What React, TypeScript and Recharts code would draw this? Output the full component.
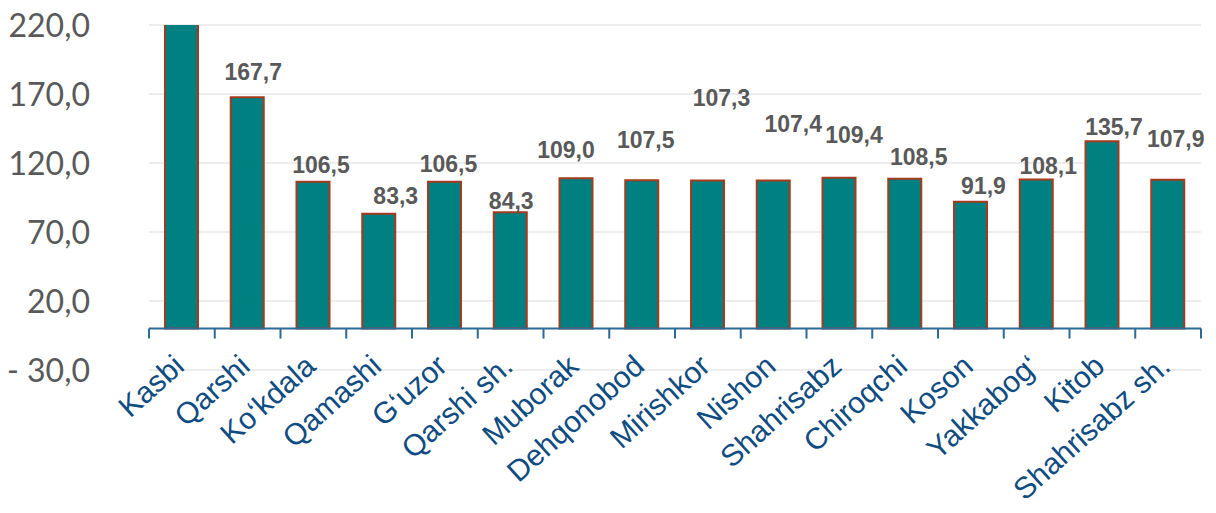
import React from "react";
import { BarChart, Bar, XAxis, YAxis, CartesianGrid, ReferenceLine, LabelList } from "recharts";

// ---- data ----
const categories: string[] = [
  "Kasbi", "Qarshi", "Ko\u2018kdala", "Qamashi", "G\u2018uzor", "Qarshi sh.", "Muborak", "Dehqonobod",
  "Mirishkor", "Nishon", "Shahrisabz", "Chiroqchi", "Koson", "Yakkabog\u2018", "Kitob", "Shahrisabz sh.",
];
// Kasbi runs off the top of the axis in the reference (its label is not visible)
const values: number[] = [250.0, 167.7, 106.5, 83.3, 106.5, 84.3, 109.0, 107.5, 107.3, 107.4, 109.4, 108.5, 91.9, 108.1, 135.7, 107.9];
const yTicks: number[] = [-30, 20, 70, 120, 170, 220];

// ---- label nudges (style only: [dx, dy] from bar top) ----
const labelNudge: [number, number][] = [
  [0, -20], [6, -25], [8, -17], [17, -18], [4, -18], [1, -12], [-10, -28], [4, -41],
  [14, -83], [20, -57], [15, -43], [14, -22], [13, -16], [12, -14], [12, -15], [8, -41],
];

const data = categories.map((name, i) => ({ name, value: values[i] }));

// ---- layout ----
const W = 1216;
const H = 513;
const M = { top: 25, right: 15, bottom: 113, left: 0 };
const Y_AXIS_W = 149;
const X_AXIS_H = 30;
const Y_MIN = -30;
const Y_MAX = 220;
const PLOT_W = W - M.left - M.right - Y_AXIS_W;
const PLOT_H = H - M.top - M.bottom - X_AXIS_H;
const ZERO_Y = M.top + ((Y_MAX - 0) / (Y_MAX - Y_MIN)) * PLOT_H;
const BAND = PLOT_W / categories.length;
const AXIS_COLOR = "#2a6b99";

const fmt = (v: number) => {
  const s = Math.abs(v).toFixed(1).replace(".", ",");
  return v < 0 ? "- " + s : s;
};

const XTick = (props: any) => {
  const { x, payload } = props;
  const idx = payload.index;
  const ax = x + 4;
  const ay = ZERO_Y + 40;
  return (
    <g>
      <line x1={x - BAND / 2} x2={x - BAND / 2} y1={ZERO_Y} y2={ZERO_Y + 10} stroke={AXIS_COLOR} strokeWidth={2} />
      {idx === categories.length - 1 && (
        <line x1={x + BAND / 2} x2={x + BAND / 2} y1={ZERO_Y} y2={ZERO_Y + 10} stroke={AXIS_COLOR} strokeWidth={2} />
      )}
      <text
        x={ax}
        y={ay}
        textAnchor="end"
        transform={`rotate(-42, ${ax}, ${ay})`}
        fill="#0f4c81"
        fontSize={30}
        fontFamily="'Liberation Sans', Arial, sans-serif"
      >
        {payload.value}
      </text>
    </g>
  );
};

const YTick = (props: any) => {
  const { x, y, payload } = props;
  return (
    <text x={x} y={y} dy="0.36em" textAnchor="end" fill="#595959" fontSize={32} fontFamily="Lato, sans-serif">
      {fmt(payload.value)}
    </text>
  );
};

const ValueLabel = (props: any) => {
  const { x, y, width, value, index } = props;
  if (value > Y_MAX) return null;
  const [dx, dy] = labelNudge[index] || [0, -20];
  return (
    <text
      x={x + width / 2 + dx}
      y={y + dy}
      dy="0.36em"
      textAnchor="middle"
      fill="#595959"
      fontSize={23}
      fontWeight="bold"
      fontFamily="'Liberation Sans', Arial, sans-serif"
    >
      {Number(value).toFixed(1).replace(".", ",")}
    </text>
  );
};

export default function App() {
  return (
    <div style={{ position: "absolute", left: 0, top: 0, background: "#fff" }}>
      <BarChart width={W} height={H} data={data} margin={M}>
        <CartesianGrid horizontal vertical={false} stroke="#ededed" strokeWidth={2} />
        <XAxis
          dataKey="name"
          interval={0}
          height={X_AXIS_H}
          axisLine={false}
          tickLine={false}
          tick={<XTick />}
        />
        <YAxis
          type="number"
          domain={[Y_MIN, Y_MAX]}
          ticks={yTicks}
          allowDataOverflow
          width={Y_AXIS_W}
          axisLine={false}
          tickLine={false}
          tickSize={0}
          tickMargin={59}
          tick={<YTick />}
        />
        <Bar dataKey="value" fill="#008080" stroke="#a53a1c" strokeWidth={2} barSize={33} isAnimationActive={false}>
          <LabelList dataKey="value" content={<ValueLabel />} />
        </Bar>
        <ReferenceLine y={0} stroke={AXIS_COLOR} strokeWidth={2} />
      </BarChart>
    </div>
  );
}
